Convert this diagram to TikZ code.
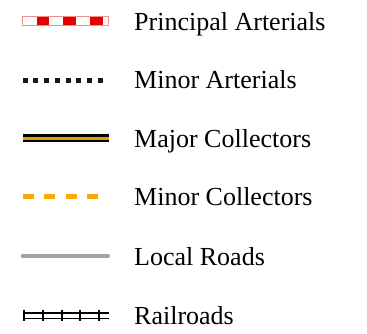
\documentclass[tikz,border=0pt]{standalone}
\usepackage{fontspec}
\setmainfont{Liberation Serif}
\usetikzlibrary{positioning}

\definecolor{artred}{HTML}{E60000}
\definecolor{colorange}{HTML}{FFA800}
\definecolor{majorange}{HTML}{E39B00}
\definecolor{roadgray}{HTML}{A0A0A0}

\tikzset{
  legendtext/.style={anchor=base west, inner sep=0pt, font=\fontsize{26}{30}\selectfont},
  railline/.style={line width=1.7pt, black}
}

\begin{document}
\begin{tikzpicture}[x=1pt, y=-1pt]
    \useasboundingbox (0,0) rectangle (367,333);

    % Principal arterials: white/red blocks in a light red frame
    \coordinate (pa-l) at (22.7,21);
    \coordinate (pa-r) at (108.7,21);
    \draw[artred!45, fill=white, line width=1pt] (22.7,16.8) rectangle (108.7,25.2);
    \draw[artred, line width=7.4pt, dash pattern=on 12.7pt off 14pt, dash phase=12.7pt] (pa-l) -- (pa-r);
    \node[legendtext] (pa) at (134,30) {Principal Arterials};

    % Minor arterials: square dots
    \coordinate (ma-l) at (22.7,80);
    \coordinate (ma-r) at (103,80);
    \draw[black!90, line width=5pt, dash pattern=on 5pt off 5.7pt] (ma-l) -- (ma-r);
    \node[legendtext] (ma) at (134,88.5) {Minor Arterials};

    % Major collectors: black casing with orange core
    \coordinate (mc-l) at (22.7,138);
    \coordinate (mc-r) at (108.7,138);
    \draw[black, line width=8pt] (mc-l) -- (mc-r);
    \draw[majorange, line width=3pt] (mc-l) -- (mc-r);
    \node[legendtext] (mc) at (134,147) {Major Collectors};

    % Minor collectors: orange dashes
    \coordinate (nc-l) at (22.7,196.7);
    \coordinate (nc-r) at (98,196.7);
    \draw[colorange, line width=5pt, dash pattern=on 11pt off 10.4pt] (nc-l) -- (nc-r);
    \node[legendtext] (nc) at (134,205.5) {Minor Collectors};

    % Local roads
    \coordinate (lr-l) at (22.7,255.7);
    \coordinate (lr-r) at (108,255.7);
    \draw[roadgray, line width=4pt, line cap=round] (lr-l) -- (lr-r);
    \node[legendtext] (lr) at (134,265) {Local Roads};

    % Railroads: double rail with ties
    \coordinate (rr-l) at (22.7,315.7);
    \coordinate (rr-r) at (108.7,315.7);
    \draw[railline] ([yshift=2.7pt]rr-l) -- ([yshift=2.7pt]rr-r);
    \draw[railline] ([yshift=-2.7pt]rr-l) -- ([yshift=-2.7pt]rr-r);
    \foreach \x in {24.3,43,61.7,80.3,99}
      \draw[railline] (\x,309.7) -- (\x,320.7);
    \node[legendtext] (rr) at (134,324) {Railroads};
\end{tikzpicture}
\end{document}
